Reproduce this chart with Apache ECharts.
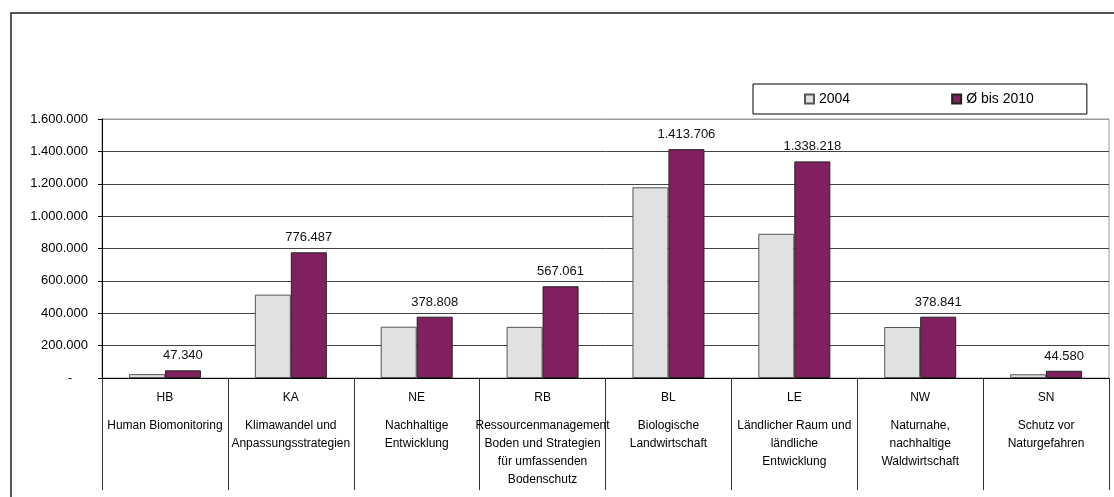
<!DOCTYPE html>
<html>
<head>
<meta charset="utf-8">
<script src="https://cdn.jsdelivr.net/npm/echarts@6/dist/echarts.min.js"></script>
<style>
html,body{margin:0;padding:0;background:#fff;}
#chart{width:1114px;height:497px;}
</style>
</head>
<body>
<div id="chart"></div>
<script>
const categories = ['HB', 'KA', 'NE', 'RB', 'BL', 'LE', 'NW', 'SN'];
const descriptions = [
  'Human Biomonitoring',
  'Klimawandel und\nAnpassungsstrategien',
  'Nachhaltige\nEntwicklung',
  'Ressourcenmanagement\nBoden und Strategien\nfür umfassenden\nBodenschutz',
  'Biologische\nLandwirtschaft',
  'Ländlicher Raum und\nländliche\nEntwicklung',
  'Naturnahe,\nnachhaltige\nWaldwirtschaft',
  'Schutz vor\nNaturgefahren'
];
const seriesNames = ['2004', 'Ø bis 2010'];
const values2004 = [24000, 515000, 317000, 316000, 1178000, 891000, 315000, 23000];
const valuesAvg2010 = [47340, 776487, 378808, 567061, 1413706, 1338218, 378841, 44580];
const yTicks = { min: 0, max: 1600000, interval: 200000 };

const FONT = '"Liberation Sans", Arial, sans-serif';
function fmt(v) {
  return String(Math.round(v)).replace(/\B(?=(\d{3})+(?!\d))/g, '.');
}

const chart = echarts.init(document.getElementById('chart'), null, { renderer: 'canvas' });
chart.setOption({
  animation: false,
  backgroundColor: '#fff',
  textStyle: { fontFamily: FONT },
  graphic: [{
    type: 'rect',
    shape: { x: 11, y: 13, width: 1300, height: 700 },
    style: { fill: 'none', stroke: '#222', lineWidth: 1.5 },
    silent: true
  }],
  legend: {
    left: 753, top: 84,
    padding: [8, 53, 8, 51],
    itemGap: 101,
    itemWidth: 9, itemHeight: 9,
    icon: 'rect',
    borderColor: '#000', borderWidth: 1,
    textStyle: { fontSize: 14, color: '#000', fontFamily: FONT },
    data: seriesNames
  },
  grid: {
    left: 102, right: 5, top: 119, bottom: 119,
    show: true, borderColor: '#999', borderWidth: 1,
    containLabel: false
  },
  xAxis: {
    type: 'category',
    data: categories,
    boundaryGap: true,
    axisLine: { show: true, lineStyle: { color: '#000', width: 1 } },
    axisTick: { show: true, length: 112, interval: 0, lineStyle: { color: '#333', width: 1 } },
    axisLabel: {
      interval: 0,
      margin: 1,
      formatter: function (v, i) {
        const d = descriptions[i].split('\n').map(s => '{d|' + s + '}').join('\n');
        return '{c|' + v + '}\n' + d;
      },
      rich: {
        c: { fontSize: 12, lineHeight: 38, color: '#000', fontFamily: FONT },
        d: { fontSize: 12, lineHeight: 18, color: '#000', fontFamily: FONT }
      }
    }
  },
  yAxis: {
    type: 'value',
    min: yTicks.min, max: yTicks.max, interval: yTicks.interval,
    axisLine: { show: true, lineStyle: { color: '#000', width: 1 } },
    axisTick: { show: true, length: 4, lineStyle: { color: '#000' } },
    splitLine: { show: true, lineStyle: { color: ['#444','#444','#444','#444','#444','#444','#444','#444','#999'], width: 1 } },
    axisLabel: {
      margin: 14,
      fontSize: 13,
      color: '#000',
      fontFamily: FONT,
      formatter: function (v) { return v === 0 ? '{z|-}' : fmt(v); },
      rich: { z: { fontSize: 13, padding: [0, 16, 0, 0], color: '#000' } }
    }
  },
  series: [
    {
      name: seriesNames[0],
      type: 'bar',
      data: values2004,
      barWidth: 36,
      barGap: '0%',
      itemStyle: { color: '#e1e1e1', borderColor: '#555', borderWidth: 1 }
    },
    {
      name: seriesNames[1],
      type: 'bar',
      data: valuesAvg2010,
      barWidth: 36,
      barGap: '0%',
      itemStyle: { color: '#80205f', borderColor: '#222', borderWidth: 1 },
      label: {
        show: true, position: 'top', distance: 8,
        fontSize: 13, color: '#111', fontFamily: FONT,
        formatter: p => fmt(p.value)
      }
    }
  ]
});
</script>
</body>
</html>
